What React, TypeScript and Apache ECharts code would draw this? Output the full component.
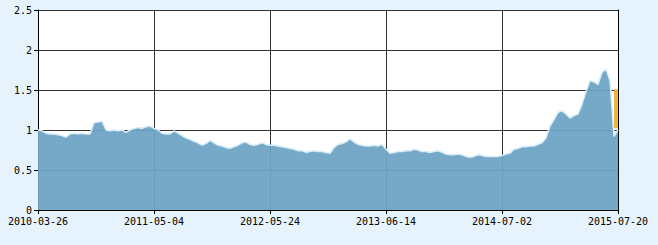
import React, { useEffect, useRef } from "react";
import * as echarts from "echarts";

const tickLabels = ["2010-03-26", "2011-05-04", "2012-05-24", "2013-06-14", "2014-07-02", "2015-07-20"];

const values = [
  1.00, 0.99, 0.96, 0.95, 0.95, 0.94, 0.93, 0.91, 0.95, 0.96,
  0.95, 0.96, 0.95, 0.95, 1.09, 1.10, 1.11, 1.00, 0.99, 1.00,
  0.99, 1.00, 0.97, 1.00, 1.02, 1.03, 1.02, 1.04, 1.05, 1.02,
  1.00, 0.96, 0.95, 0.95, 0.99, 0.96, 0.93, 0.90, 0.88, 0.86,
  0.84, 0.81, 0.83, 0.87, 0.84, 0.81, 0.80, 0.78, 0.77, 0.79,
  0.81, 0.84, 0.85, 0.82, 0.81, 0.82, 0.84, 0.82, 0.81, 0.81,
  0.80, 0.79, 0.78, 0.77, 0.76, 0.74, 0.74, 0.72, 0.73, 0.74,
  0.73, 0.73, 0.72, 0.71, 0.78, 0.82, 0.83, 0.85, 0.89, 0.85,
  0.82, 0.81, 0.80, 0.80, 0.81, 0.80, 0.82, 0.76, 0.71, 0.72,
  0.73, 0.73, 0.74, 0.74, 0.76, 0.75, 0.73, 0.73, 0.72, 0.73,
  0.74, 0.72, 0.70, 0.69, 0.69, 0.70, 0.69, 0.67, 0.66, 0.67,
  0.69, 0.68, 0.67, 0.67, 0.67, 0.67, 0.68, 0.70, 0.71, 0.76,
  0.77, 0.79, 0.79, 0.80, 0.80, 0.82, 0.84, 0.90, 1.05, 1.13,
  1.22, 1.24, 1.20, 1.15, 1.18, 1.20, 1.32, 1.48, 1.62, 1.60,
  1.57, 1.72, 1.76, 1.62, 0.92, 1.00,
];

// orange highlight block over the last step: [top, bottom]
const highlightRange = [1.51, 1.02];

const yTicks = [0, 0.5, 1, 1.5, 2, 2.5];

export default function App() {
  const ref = useRef<HTMLDivElement>(null);
  useEffect(() => {
    if (!ref.current) return;
    const chart = echarts.init(ref.current, null, { renderer: "svg" });
    const step = (values.length - 1) / (tickLabels.length - 1);
    const categories = values.map((_, i) => String(i));
    const lastIdx = values.length - 1;
    const font = { fontFamily: "DejaVu Sans Mono", fontSize: 10, color: "#000" };
    chart.setOption({
      animation: false,
      backgroundColor: "#e7f3fc",
      grid: { left: 38, right: 40, top: 10, bottom: 35, show: true, backgroundColor: "#fff", borderWidth: 0 },
      xAxis: {
        type: "category",
        data: categories,
        boundaryGap: false,
        axisLine: { lineStyle: { color: "#000", width: 1 } },
        axisTick: { interval: step - 1, length: 4, lineStyle: { color: "#000" } },
        axisLabel: {
          interval: step - 1,
          margin: 6,
          ...font,
          formatter: (_v: string, i: number) => (i % step === 0 ? tickLabels[i / step] : ""),
        },
        splitLine: { show: true, interval: step - 1, lineStyle: { color: "#333", width: 1 } },
      },
      yAxis: [
        {
          type: "value",
          min: yTicks[0],
          max: yTicks[yTicks.length - 1],
          interval: yTicks[1] - yTicks[0],
          axisLine: { show: true, lineStyle: { color: "#000" } },
          axisTick: { show: true, length: 4, lineStyle: { color: "#000" } },
          axisLabel: { margin: 6, ...font, formatter: (v: number) => String(v) },
          splitLine: { show: true, lineStyle: { color: "#333", width: 1 } },
        },
        {
          type: "value",
          position: "right",
          min: yTicks[0],
          max: yTicks[yTicks.length - 1],
          interval: yTicks[1] - yTicks[0],
          axisLine: { show: true, lineStyle: { color: "#000" } },
          axisTick: { show: false },
          axisLabel: { show: false },
          splitLine: { show: false },
        },
      ],
      series: [
        {
          type: "line",
          data: values,
          symbol: "none",
          lineStyle: { color: "#d8edf9", width: 1.5 },
          areaStyle: { color: "#6da3c3", opacity: 0.94 },
          z: 2,
        },
        {
          type: "line",
          data: values.map(() => "-"),
          symbol: "none",
          z: 5,
          markArea: {
            silent: true,
            itemStyle: { color: "#f2b441", opacity: 1 },
            data: [
              [
                { coord: [String(lastIdx - 1), highlightRange[0]] },
                { coord: [String(lastIdx), highlightRange[1]] },
              ],
            ],
          },
        },
      ],
    });
    return () => chart.dispose();
  }, []);
  return <div ref={ref} style={{ position: "fixed", left: 0, top: 0, width: 658, height: 245 }} />;
}
